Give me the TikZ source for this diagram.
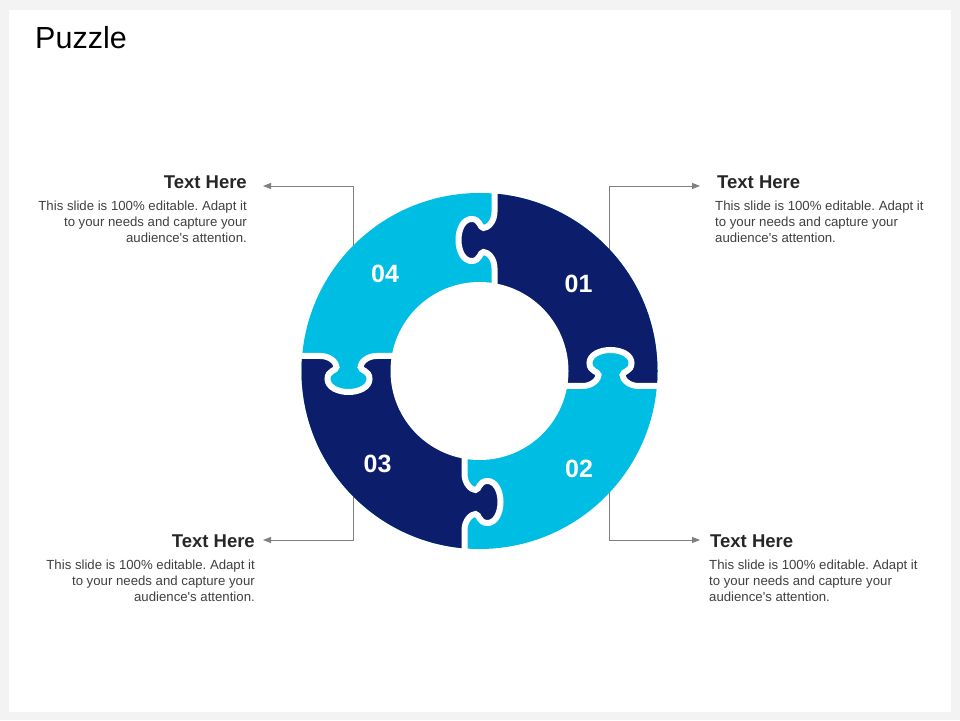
\documentclass[tikz,border=0pt]{standalone}
\usepackage{fontspec}
\setmainfont{Liberation Sans}
\usetikzlibrary{arrows.meta, positioning}
\definecolor{navy}{HTML}{0B1D6B}
\definecolor{sky}{HTML}{00BDE3}
\definecolor{linegray}{HTML}{808080}
\definecolor{headgray}{HTML}{262626}
\definecolor{bodygray}{HTML}{404040}
\definecolor{pagegray}{HTML}{F3F3F3}
\tikzset{>={Triangle[length=8pt,width=6pt]}}
\tikzset{
  conn/.style={->, draw=linegray, line width=0.9pt},
  heading/.style={font=\fontsize{18.5}{22}\selectfont\bfseries, text=headgray, inner sep=0pt},
  blurb/.style={font=\fontsize{13.2}{16}\selectfont, text=bodygray, inner sep=0pt},
  num/.style={font=\fontsize{25}{30}\selectfont\bfseries, text=white, inner sep=0pt},
  seam/.style={draw=white, line width=6pt},
}
\frenchspacing

\begin{document}
\begin{tikzpicture}[x=1pt, y=1pt]
		\useasboundingbox (0,0) rectangle (960,720);
		\fill[pagegray] (0,0) rectangle (960,720);
		\fill[white] (9,8) rectangle (951,710);

		\node[font=\fontsize{30.5}{36}\selectfont, inner sep=0pt, anchor=base west] (title) at (35,671.5) {Puzzle};

		% connectors, hidden under the ring
		\coordinate (s1) at (609,420); \coordinate (e1) at (700,534);
		\coordinate (s2) at (609,270); \coordinate (e2) at (700,180);
		\coordinate (s3) at (353,270); \coordinate (e3) at (263,180);
		\coordinate (s4) at (353,420); \coordinate (e4) at (263,534);
		\draw[conn] (s1) |- (e1); \draw[conn] (s2) |- (e2);
		\draw[conn] (s3) |- (e3); \draw[conn] (s4) |- (e4);

		\begin{scope}[shift={(479.5,349)}]
			\fill[sky] (0,0) circle[radius=178];
			\begin{scope}
				\clip (0,0) circle[radius=178];
				\fill[navy] (15,-15) rectangle (200,200);
				\fill[navy] (-15,15) rectangle (-200,-200);
			\end{scope}
			\fill[white] (0,0) circle[radius=89];
			\foreach \ang/\col in {0/navy, -90/sky, -180/navy, -270/sky}{
				\begin{scope}[rotate=\ang, shift={(15,131)}, xscale=-1]
					\fill[\col] (-3,-28) -- (0,-28) .. controls (0,-18) and (7,-12) .. (11,-12)
						.. controls (15,-12) and (14,-21) .. (23,-21)
						.. controls (31,-21) and (36,-11) .. (36,0)
						.. controls (36,11) and (31,21) .. (23,21)
						.. controls (14,21) and (15,12) .. (11,12)
						.. controls (7,12) and (0,18) .. (0,28) -- (-3,28) -- cycle;
					\draw[seam] (0,-60) -- (0,-28) .. controls (0,-18) and (7,-12) .. (11,-12)
						.. controls (15,-12) and (14,-21) .. (23,-21)
						.. controls (31,-21) and (36,-11) .. (36,0)
						.. controls (36,11) and (31,21) .. (23,21)
						.. controls (14,21) and (15,12) .. (11,12)
						.. controls (7,12) and (0,18) .. (0,28) -- (0,65);
				\end{scope}
			}
			\node[num] (n1) at (99,87.5) {01};
			\node[num] (n2) at (99.5,-98) {02};
			\node[num] (n3) at (-102,-93) {03};
			\node[num] (n4) at (-94.5,97.5) {04};
		\end{scope}

		\node[heading, anchor=base west] (h1) at (717,531) {Text Here};
		\node[blurb, anchor=north west, align=left] (b1) at (715,519.5) {This slide is 100\% editable. Adapt it\\to your needs and capture your\\audience\textquotesingle s attention.};
		\node[heading, anchor=base west] (h2) at (710,172) {Text Here};
		\node[blurb, anchor=north west, align=left] (b2) at (709,160.5) {This slide is 100\% editable. Adapt it\\to your needs and capture your\\audience\textquotesingle s attention.};
		\node[heading, anchor=base east] (h3) at (255,172) {Text Here};
		\node[blurb, anchor=north east, align=right] (b3) at (255,160.5) {This slide is 100\% editable. Adapt it\\to your needs and capture your\\audience\textquotesingle s attention.};
		\node[heading, anchor=base east] (h4) at (247,531) {Text Here};
		\node[blurb, anchor=north east, align=right] (b4) at (247,519.5) {This slide is 100\% editable. Adapt it\\to your needs and capture your\\audience\textquotesingle s attention.};
\end{tikzpicture}
\end{document}
